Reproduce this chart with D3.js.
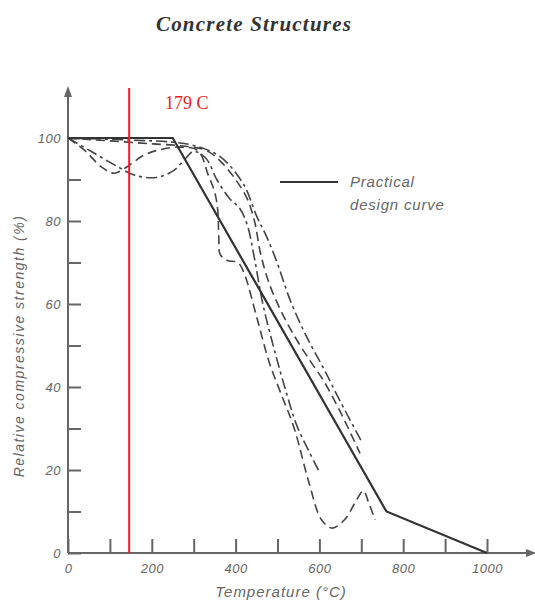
<!DOCTYPE html>
<html>
<head>
    <title>Concrete Structures</title>
    <script src="https://d3js.org/d3.v7.min.js"></script>
    <style>
        body {
            margin: 0;
            background-color: #fff;
        }
        .tick text {
            font-family: "Liberation Sans", Arial, sans-serif;
            font-style: italic;
            font-size: 13px;
            letter-spacing: 0.5px;
            fill: #666;
        }
        .tick line {
            stroke: #666;
            stroke-width: 2;
        }
    </style>
</head>
<body>
    <div id="chart"></div>
    <script>
        // 数据: 温度 (°C) 与相对抗压强度 (%)
        const xTicks = [0, 100, 200, 300, 400, 500, 600, 700, 800, 900, 1000];
        const yTicks = [0, 10, 20, 30, 40, 50, 60, 70, 80, 90, 100];

        const designCurve = [[0, 100], [250, 100], [760, 10], [1000, 0]];

        const testCurveA = [[0, 100], [40, 97], [80, 93], [110, 91.5], [140, 93], [180, 95.8], [220, 97.2],
            [270, 97.8], [310, 97], [335, 91], [350, 87], [357, 83], [360, 76], [363, 72], [380, 70.5],
            [405, 70], [420, 67.5], [450, 57], [480, 46], [506, 39], [540, 30], [575, 17], [605, 8],
            [630, 6], [660, 8], [690, 13], [705, 15], [718, 12], [733, 8]];

        const testCurveB = [[0, 100], [60, 96.5], [120, 93], [160, 91], [210, 90.5], [250, 92], [280, 95],
            [300, 96.8], [330, 95], [355, 90], [385, 85.5], [410, 83], [428, 79], [445, 71], [465, 60],
            [495, 48], [523, 38], [545, 31], [575, 24.5], [601, 19.3]];

        const testCurveC = [[0, 100], [100, 99.3], [200, 98.6], [280, 98], [330, 97], [363, 94.5], [400, 90],
            [427, 85.5], [445, 80], [460, 72], [480, 65], [510, 58], [545, 51.5], [580, 46], [610, 41.5],
            [650, 34], [697, 24]];

        const testCurveD = [[0, 100], [150, 99.5], [250, 99], [300, 98.2], [363, 95.5], [418, 89], [451, 81],
            [475, 76], [499, 70], [530, 61], [570, 52], [610, 44.5], [650, 36.5], [700, 27]];

        const markerTemp = 146;
        const markerLabel = '179 C';

        const width = 535;
        const height = 604;

        const svg = d3.select('#chart')
            .append('svg')
            .attr('width', width)
            .attr('height', height);

        const x = d3.scaleLinear().domain([0, 1000]).range([68, 487]);
        const y = d3.scaleLinear().domain([0, 100]).range([553, 138]);

        // 标题
        svg.append('text')
            .attr('x', 254)
            .attr('y', 31)
            .attr('text-anchor', 'middle')
            .style('font-family', '"Liberation Serif", "Times New Roman", serif')
            .style('font-style', 'italic')
            .style('font-weight', 'bold')
            .style('font-size', '21px')
            .style('letter-spacing', '1.2px')
            .style('fill', '#333')
            .text('Concrete Structures');

        // 坐标轴刻度
        svg.append('g')
            .attr('transform', `translate(${x(0)},0)`)
            .call(d3.axisLeft(y)
                .tickValues(yTicks)
                .tickSizeInner(-13)
                .tickSizeOuter(0)
                .tickPadding(7)
                .tickFormat(d => d % 20 === 0 ? d : ''))
            .call(g => g.select('.domain').remove());

        svg.append('g')
            .attr('transform', `translate(0,${y(0)})`)
            .call(d3.axisBottom(x)
                .tickValues(xTicks)
                .tickSizeInner(-14)
                .tickSizeOuter(0)
                .tickPadding(11)
                .tickFormat(d => d % 200 === 0 ? d : ''))
            .call(g => g.select('.domain').remove());

        // 坐标轴线和箭头
        const axisColor = '#666';
        svg.append('line')
            .attr('x1', x(0)).attr('y1', y(0))
            .attr('x2', 530).attr('y2', y(0))
            .attr('stroke', axisColor).attr('stroke-width', 2);
        svg.append('path')
            .attr('d', `M536,${y(0)} L526,${y(0) - 4} L526,${y(0) + 4} Z`)
            .attr('fill', axisColor);
        svg.append('line')
            .attr('x1', x(0)).attr('y1', y(0))
            .attr('x2', x(0)).attr('y2', 94)
            .attr('stroke', axisColor).attr('stroke-width', 2);
        svg.append('path')
            .attr('d', `M${x(0)},86 L${x(0) - 4},97 L${x(0) + 4},97 Z`)
            .attr('fill', axisColor);

        // 轴标题
        svg.append('text')
            .attr('transform', 'translate(24,346) rotate(-90)')
            .attr('text-anchor', 'middle')
            .style('font-family', '"Liberation Sans", Arial, sans-serif')
            .style('font-style', 'italic')
            .style('font-size', '14px')
            .style('letter-spacing', '1.5px')
            .style('fill', '#666')
            .text('Relative compressive strength (%)');

        svg.append('text')
            .attr('x', 281)
            .attr('y', 597)
            .attr('text-anchor', 'middle')
            .style('font-family', '"Liberation Sans", Arial, sans-serif')
            .style('font-style', 'italic')
            .style('font-size', '15px')
            .style('letter-spacing', '1px')
            .style('fill', '#666')
            .text('Temperature (°C)');

        // 曲线
        const line = d3.line()
            .x(d => x(d[0]))
            .y(d => y(d[1]));
        const smooth = d3.line()
            .x(d => x(d[0]))
            .y(d => y(d[1]))
            .curve(d3.curveCatmullRom.alpha(0.5));

        const curves = [
            { data: testCurveA, dash: '9,5' },
            { data: testCurveB, dash: '11,4,3,4' },
            { data: testCurveC, dash: '9,5' },
            { data: testCurveD, dash: '11,4,3,4' }
        ];

        svg.selectAll('.test')
            .data(curves)
            .enter()
            .append('path')
            .attr('class', 'test')
            .attr('d', d => smooth(d.data))
            .attr('fill', 'none')
            .attr('stroke', '#444')
            .attr('stroke-width', 1.6)
            .attr('stroke-dasharray', d => d.dash);

        svg.append('path')
            .attr('d', line(designCurve))
            .attr('fill', 'none')
            .attr('stroke', '#333')
            .attr('stroke-width', 2.2);

        // 图例
        svg.append('line')
            .attr('x1', 280).attr('x2', 338)
            .attr('y1', 182).attr('y2', 182)
            .attr('stroke', '#333').attr('stroke-width', 2);
        const legendText = svg.append('text')
            .style('font-family', '"Liberation Sans", Arial, sans-serif')
            .style('font-style', 'italic')
            .style('font-size', '15px')
            .style('letter-spacing', '0.8px')
            .style('fill', '#666');
        legendText.append('tspan').attr('x', 350).attr('y', 187).text('Practical');
        legendText.append('tspan').attr('x', 350).attr('y', 210).text('design curve');

        // 红色标记线
        svg.append('line')
            .attr('x1', x(markerTemp)).attr('x2', x(markerTemp))
            .attr('y1', 88).attr('y2', y(0))
            .attr('stroke', '#ee1c24').attr('stroke-width', 2);
        svg.append('text')
            .attr('x', 165)
            .attr('y', 109)
            .style('font-family', '"Liberation Serif", "Times New Roman", serif')
            .style('font-size', '18px')
            .style('fill', '#ee1c24')
            .text(markerLabel);
    </script>
</body>
</html>
